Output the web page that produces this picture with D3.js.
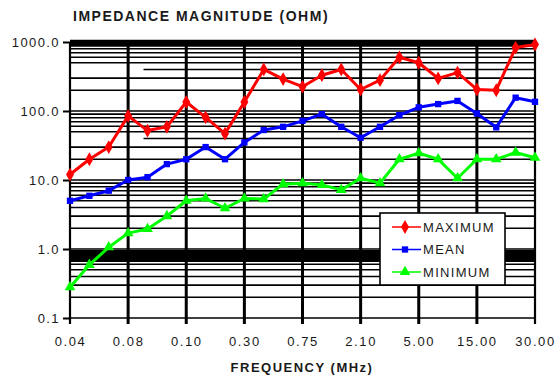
<!DOCTYPE html>
<html>
<head>
<meta charset="utf-8">
<script src="https://cdn.jsdelivr.net/npm/d3@7"></script>
<style>
  body { margin: 0; background: #fff; }
  text { font-family: "Liberation Sans", Arial, sans-serif; fill: #1a1a1a; }
</style>
</head>
<body>
<div class="chart"></div>
<script>
var margin = {top: 42, right: 21, bottom: 60, left: 70};
var width = 556 - margin.left - margin.right;
var height = 378 - margin.top - margin.bottom;

// 25 measured frequencies, only every third one is labelled
let freqLabels = ['0.04', '0.08', '0.10', '0.30', '0.75', '2.10', '5.00', '15.00', '30.00'];
let pointsPerLabel = 3;
let pointIndex = d3.range((freqLabels.length - 1) * pointsPerLabel + 1);

let maximum = [12, 20, 30, 85, 52, 59, 135, 81, 47, 135, 400, 290, 225, 330, 400, 205, 280, 600, 500, 297, 360, 205, 200, 830, 920];
let mean    = [5.0, 5.9, 7.0, 10, 11, 17, 20, 30, 20, 35, 53, 59, 72, 90, 59, 41, 59, 87, 113, 126, 140, 92, 58, 156, 136];
let minimum = [0.28, 0.59, 1.06, 1.7, 1.95, 3.0, 5.0, 5.4, 3.9, 5.4, 5.3, 8.7, 9.0, 8.5, 7.2, 10.6, 9.0, 20, 24.5, 20, 10.6, 20, 20, 25, 21];

let yTicks = [0.1, 1, 10, 100, 1000];

let series = [
  {name: 'MAXIMUM', values: maximum, color: '#ff0000', symbol: d3.symbolDiamond, size: 55},
  {name: 'MEAN', values: mean, color: '#0000ff', symbol: d3.symbolSquare, size: 40},
  {name: 'MINIMUM', values: minimum, color: '#00ff00', symbol: d3.symbolTriangle, size: 50}
];

let svg = d3.select('.chart')
  .append('svg')
  .attr('width', 556)
  .attr('height', 378);

let g = svg.append('g')
  .attr('transform', `translate(${margin.left}, ${margin.top})`);

//scales
let xScale = d3.scalePoint()
  .domain(pointIndex)
  .range([0, width]);

let yScale = d3.scaleLog()
  .domain([0.1, 1000])
  .range([height, 0]);

// horizontal grid: every minor log line, some printed heavier
let minor = [];
yTicks.slice(0, -1).forEach(t => {
  for (let k = 1; k < 10; k++) minor.push(t * k);
});
minor.push(1000);

function lineWeight(v) {
  let r = Math.round(v / Math.pow(10, Math.floor(Math.log10(v) + 1e-9)));
  if (v >= 1000) return 4.5;
  if (Math.abs(v - 900) < 1) return 3;
  if (v < 1 && r >= 7) return 4.5;
  return 1.6;
}

g.append('g')
  .selectAll('line')
  .data(minor)
  .enter()
  .append('line')
  .attr('x1', d => (Math.abs(d - 400) < 1 || Math.abs(d - 40) < 0.1) ? xScale(4) - 4 : 0)
  .attr('x2', width)
  .attr('y1', d => yScale(d))
  .attr('y2', d => yScale(d))
  .style('stroke', '#000')
  .style('stroke-width', lineWeight);

// vertical grid at labelled frequencies
let labelIdx = freqLabels.map((l, i) => i * pointsPerLabel);
g.append('g')
  .selectAll('line')
  .data(labelIdx)
  .enter()
  .append('line')
  .attr('x1', d => xScale(d))
  .attr('x2', d => xScale(d))
  .attr('y1', 0)
  .attr('y2', height + 6)
  .style('stroke', '#000')
  .style('stroke-width', (d, i) => (i === 0 || i === labelIdx.length - 1) ? 2.2 : 3);

// y axis
let yAxis = d3.axisLeft(yScale)
  .tickValues(yTicks)
  .tickSize(7)
  .tickPadding(3)
  .tickFormat(d3.format('.1f'));
let ya = g.append('g').call(yAxis);
ya.select('.domain').remove();
ya.selectAll('line').style('stroke', '#000').style('stroke-width', 2);
ya.selectAll('text')
  .style('font-size', '13px')
  .style('letter-spacing', '1.4px')
  .style('fill', '#1a1a1a')
  .attr('dy', '0.35em');

// x axis labels
let xAxis = d3.axisBottom(xScale)
  .tickValues(labelIdx)
  .tickSize(0)
  .tickPadding(19)
  .tickFormat(d => freqLabels[d / pointsPerLabel]);
let xa = g.append('g')
  .attr('transform', `translate(0, ${height})`)
  .call(xAxis);
xa.select('.domain').remove();
xa.selectAll('text')
  .style('font-size', '13px')
  .style('letter-spacing', '1.6px')
  .style('fill', '#1a1a1a');

// series
let line = d3.line()
  .x((d, i) => xScale(i))
  .y(d => yScale(d));

series.forEach(s => {
  g.append('path')
    .datum(s.values)
    .attr('d', line)
    .style('fill', 'none')
    .style('stroke', s.color)
    .style('stroke-width', 3)
    .style('stroke-linejoin', 'round');

  g.selectAll('.m' + s.name)
    .data(s.values)
    .enter()
    .append('path')
    .attr('transform', (d, i) => `translate(${xScale(i)}, ${yScale(d)})`)
    .attr('d', d3.symbol().type(s.symbol).size(s.size))
    .style('fill', s.color);
});

// legend
let legend = svg.append('g')
  .attr('transform', 'translate(380, 213)');
legend.append('rect')
  .attr('width', 125)
  .attr('height', 72)
  .style('fill', '#fff')
  .style('stroke', '#000')
  .style('stroke-width', 1.6);

let items = legend.selectAll('.item')
  .data(series)
  .enter()
  .append('g')
  .attr('transform', (d, i) => `translate(0, ${14 + i * 22.5})`);
items.append('line')
  .attr('x1', 12)
  .attr('x2', 41)
  .style('stroke', d => d.color)
  .style('stroke-width', 1.5);
items.append('path')
  .attr('transform', 'translate(25, 0)')
  .attr('d', d => d3.symbol().type(d.symbol).size(d.size)())
  .style('fill', d => d.color);
items.append('text')
  .attr('x', 43)
  .attr('dy', '0.36em')
  .style('font-size', '13px')
  .style('letter-spacing', '1.3px')
  .text(d => d.name);

// titles
svg.append('text')
  .attr('x', 73)
  .attr('y', 21)
  .style('font-size', '14px')
  .style('font-weight', 'bold')
  .style('letter-spacing', '1.5px')
  .text('IMPEDANCE MAGNITUDE (OHM)');

svg.append('text')
  .attr('x', 302)
  .attr('y', 372)
  .style('text-anchor', 'middle')
  .style('font-size', '13px')
  .style('font-weight', 'bold')
  .style('letter-spacing', '1.5px')
  .text('FREQUENCY (MHz)');
</script>
</body>
</html>
